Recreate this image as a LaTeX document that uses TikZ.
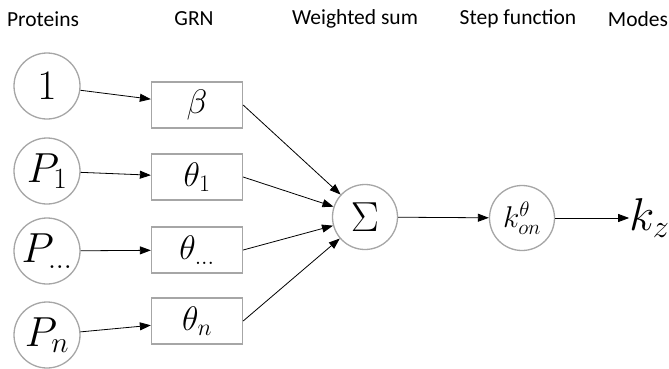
\documentclass[tikz,border=0pt]{standalone}
\usepackage{fix-cm}
\usepackage{fontspec}
\setmainfont{Carlito}
\usetikzlibrary{arrows.meta, positioning}

\begin{document}
\begin{tikzpicture}[
    x=1pt, y=-1pt,
    head/.style={font=\fontsize{21.5}{24}\selectfont, anchor=center},
    prot/.style={circle, draw=black!35, line width=1.3pt, fill=white, minimum size=66pt, inner sep=0pt, font=\fontsize{42}{42}\selectfont},
    grn/.style={rectangle, draw=black!35, line width=1.3pt, fill=white, minimum width=91pt, minimum height=46pt, inner sep=0pt, font=\fontsize{34}{34}\selectfont},
    op/.style={circle, draw=black!35, line width=1.3pt, fill=white, minimum size=65pt, inner sep=0pt},
    arrow/.style={-{Triangle[length=11pt, width=8pt]}, line width=0.8pt}
]
\useasboundingbox (0,0) rectangle (669,368);

% Column titles
\node[head] (hprot) at (43,19) {Proteins};
\node[head] (hgrn) at (194,19) {GRN};
\node[head] (hsum) at (355,19) {Weighted sum};
\node[head] (hstep) at (518,19) {Step function};
\node[head] (hmode) at (638,19) {Modes};

% Proteins
\node[prot] (one) at (47,86) {$1$};
\node[prot] (p1) at (47,171) {$P_1$};
\node[prot] (pdots) at (47,251) {$P_{\dots}$};
\node[prot] (pn) at (47,335) {$P_n$};

% GRN weights
\node[grn] (beta) at (197,105) {$\beta$};
\node[grn] (th1) at (197,177) {$\theta_1$};
\node[grn] (thdots) at (197,250) {$\theta_{\dots}$};
\node[grn] (thn) at (197,321) {$\theta_n$};

% Sum, step and mode
\node[op, font=\fontsize{42}{42}\selectfont] (sum) at (365,217) {$\Sigma$};
\node[op, font=\fontsize{30}{30}\selectfont] (kon) at (522,218) {$k_{on}^{\theta}$};
\node[font=\fontsize{46}{46}\selectfont, inner sep=0pt, right=74pt of kon] (kz) {$k_z$};

% Arrows
\draw[arrow] (one) -- (beta);
\draw[arrow] (p1) -- (th1);
\draw[arrow] (pdots) -- (thdots);
\draw[arrow] (pn) -- (thn);
\draw[arrow] (beta.east) -- (sum);
\draw[arrow] (th1.east) -- (sum);
\draw[arrow] (thdots.east) -- (sum);
\draw[arrow] (thn.east) -- (sum);
\draw[arrow] (sum) -- (kon);
\draw[arrow] (kon) -- (kz);

\end{tikzpicture}
\end{document}
